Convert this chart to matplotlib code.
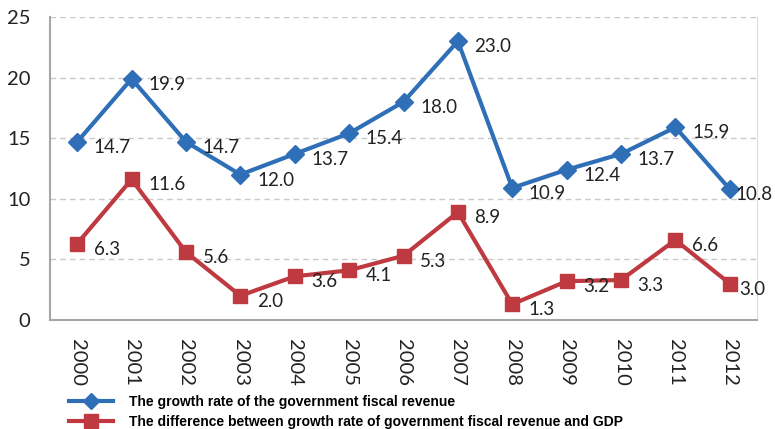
import matplotlib.pyplot as plt
from matplotlib.lines import Line2D

years = ['2000', '2001', '2002', '2003', '2004', '2005', '2006',
         '2007', '2008', '2009', '2010', '2011', '2012']
fiscal_growth = [14.7, 19.9, 14.7, 12.0, 13.7, 15.4, 18.0, 23.0, 10.9, 12.4, 13.7, 15.9, 10.8]
growth_gap = [6.3, 11.6, 5.6, 2.0, 3.6, 4.1, 5.3, 8.9, 1.3, 3.2, 3.3, 6.6, 3.0]

blue = '#2F6FB7'
red = '#BF3A40'
label_font = 'Lato'

fig = plt.figure(figsize=(7.75, 4.29), dpi=100)
ax = fig.add_axes([50 / 775, 1 - 320 / 429, 707 / 775, 303 / 429])

x = list(range(len(years)))
ax.plot(x, fiscal_growth, '-D', color=blue, lw=3, markersize=9, zorder=3)
ax.plot(x, growth_gap, '-s', color=red, lw=3, markersize=10, zorder=3)

last = len(years) - 1
# last labels sit closer to the point so they fit inside the figure
for series, last_dx in ((fiscal_growth, 4), (growth_gap, 7)):
    for xi, v in zip(x, series):
        dx = last_dx if xi == last else 12
        ax.annotate(f'{v:.1f}', (xi, v), xytext=(dx, -4), textcoords='offset points',
                    ha='left', va='center', fontsize=13.5, family=label_font,
                    color='#222222', annotation_clip=False)

ax.set_xlim(-0.5, 12.5)
ax.set_ylim(0, 25)
ax.set_yticks([0, 5, 10, 15, 20, 25])
ax.set_xticks(x)
ax.set_xticklabels(years, rotation=270)
for lab in ax.get_xticklabels() + ax.get_yticklabels():
    lab.set_fontfamily(label_font)
    lab.set_fontsize(14.5)
    lab.set_color('#222222')
ax.tick_params(axis='both', length=0)
ax.tick_params(axis='y', pad=14)
ax.tick_params(axis='x', pad=14)

ax.grid(axis='y', color='#C8C8C8', linestyle=(0, (4, 3)), lw=1)
ax.set_axisbelow(True)
ax.spines['left'].set_color('#A6A6A6')
ax.spines['bottom'].set_color('#A6A6A6')
ax.spines['left'].set_linewidth(1.5)
ax.spines['bottom'].set_linewidth(1.5)
ax.spines['top'].set_visible(False)
ax.spines['right'].set_color('#DDDDDD')

handles = [
    Line2D([], [], color=blue, lw=3, marker='D', markersize=8),
    Line2D([], [], color=red, lw=3, marker='s', markersize=10),
]
labels = ['The growth rate of the government fiscal revenue',
          'The difference between growth rate of government fiscal revenue and GDP']
fig.legend(handles, labels, loc='upper left', bbox_to_anchor=(62 / 775, 1 - 388 / 429),
           frameon=False, prop={'family': 'Liberation Sans', 'weight': 'bold', 'size': 10},
           handlelength=3.2, handletextpad=1.1, labelspacing=0.45, borderpad=0)

fig.savefig('out.png', dpi=100)
